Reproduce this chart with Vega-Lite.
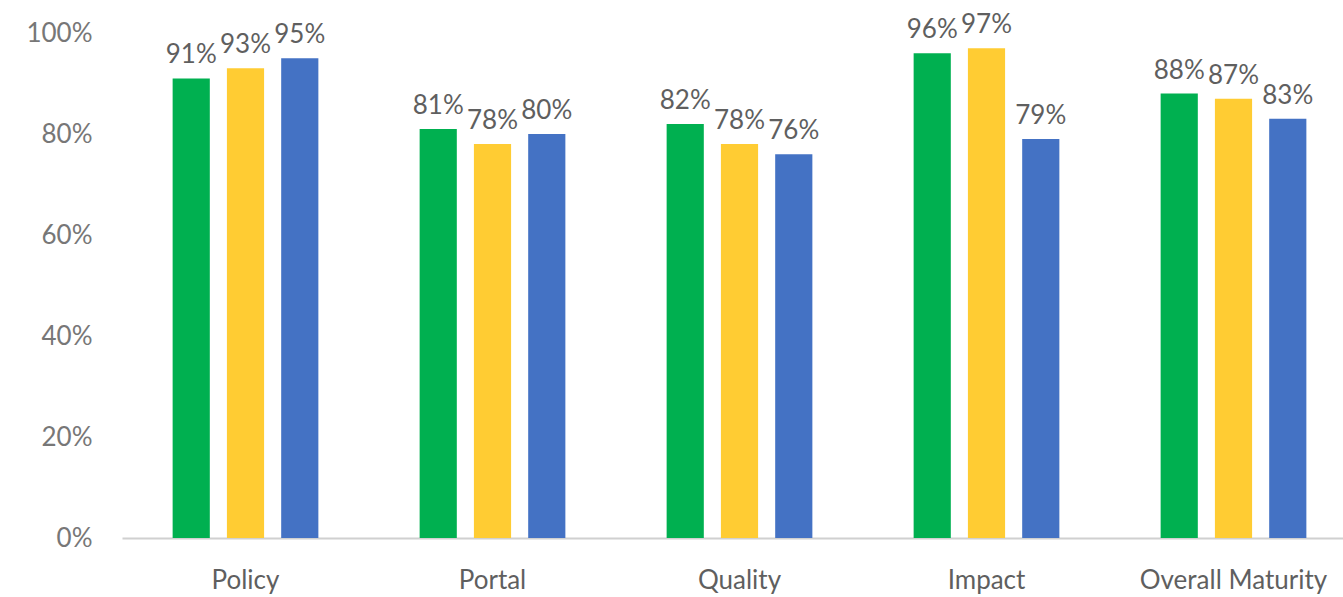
{
  "$schema": "https://vega.github.io/schema/vega-lite/v6.json",
  "autosize": "none",
  "width": 1235,
  "height": 505,
  "padding": {"left": 122, "top": 33, "right": 0, "bottom": 59},
  "background": "white",
  "config": {"view": {"stroke": null}, "font": "Lato"},
  "data": {
    "values": [
      {"dimension": "Policy", "series": "Series 1", "value": 0.91},
      {"dimension": "Policy", "series": "Series 2", "value": 0.93},
      {"dimension": "Policy", "series": "Series 3", "value": 0.95},
      {"dimension": "Portal", "series": "Series 1", "value": 0.81},
      {"dimension": "Portal", "series": "Series 2", "value": 0.78},
      {"dimension": "Portal", "series": "Series 3", "value": 0.80},
      {"dimension": "Quality", "series": "Series 1", "value": 0.82},
      {"dimension": "Quality", "series": "Series 2", "value": 0.78},
      {"dimension": "Quality", "series": "Series 3", "value": 0.76},
      {"dimension": "Impact", "series": "Series 1", "value": 0.96},
      {"dimension": "Impact", "series": "Series 2", "value": 0.97},
      {"dimension": "Impact", "series": "Series 3", "value": 0.79},
      {"dimension": "Overall Maturity", "series": "Series 1", "value": 0.88},
      {"dimension": "Overall Maturity", "series": "Series 2", "value": 0.87},
      {"dimension": "Overall Maturity", "series": "Series 3", "value": 0.83}
    ]
  },
  "encoding": {
    "x": {
      "field": "dimension",
      "type": "nominal",
      "sort": null,
      "scale": {"paddingInner": 0.41, "paddingOuter": 0.205},
      "axis": {
        "title": null,
        "labelAngle": 0,
        "labelFontSize": 26,
        "labelColor": "#5f5f5f",
        "labelPadding": 29,
        "labelLimit": 0,
        "labelOverlap": false,
        "labelBound": false,
        "ticks": false,
        "domainColor": "#d0d0d0",
        "domainWidth": 2
      }
    },
    "xOffset": {
      "field": "series",
      "type": "nominal",
      "scale": {"paddingInner": 0.315, "paddingOuter": 0}
    },
    "y": {
      "field": "value",
      "type": "quantitative",
      "scale": {"domain": [0, 1], "nice": false},
      "axis": {
        "title": null,
        "format": ".0%",
        "values": [0, 0.2, 0.4, 0.6, 0.8, 1],
        "grid": false,
        "domain": false,
        "ticks": false,
        "labelFontSize": 26,
        "labelColor": "#777777",
        "labelPadding": 30
      }
    }
  },
  "layer": [
    {
      "mark": {"type": "bar"},
      "encoding": {
        "color": {
          "field": "series",
          "type": "nominal",
          "scale": {"domain": ["Series 1", "Series 2", "Series 3"], "range": ["#00B050", "#FFCC33", "#4472C4"]},
          "legend": null
        }
      }
    },
    {
      "mark": {"type": "text", "baseline": "bottom", "dy": -10, "fontSize": 26, "color": "#5f5f5f"},
      "encoding": {
        "text": {"field": "value", "type": "quantitative", "format": ".0%"}
      }
    }
  ]
}
